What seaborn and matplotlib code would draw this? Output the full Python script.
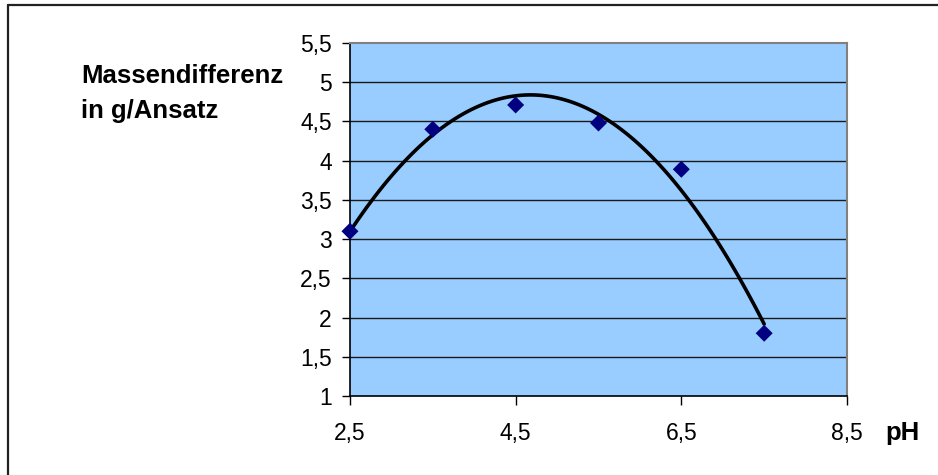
import matplotlib
matplotlib.use("Agg")
import matplotlib.pyplot as plt
import seaborn as sns
import pandas as pd
from matplotlib.lines import Line2D
from matplotlib.ticker import FuncFormatter

# data
ph = [2.5, 3.5, 4.5, 5.5, 6.5, 7.5]
mass_diff = [3.1, 4.4, 4.71, 4.48, 3.89, 1.8]

x_ticks = [2.5, 4.5, 6.5, 8.5]
y_ticks = [1, 1.5, 2, 2.5, 3, 3.5, 4, 4.5, 5, 5.5]

df = pd.DataFrame({'pH': ph, 'Massendifferenz': mass_diff})

sns.set_style("white")
plt.rcParams['font.family'] = ['Liberation Sans', 'DejaVu Sans']
plt.rcParams['text.color'] = 'black'
plt.rcParams['xtick.labelcolor'] = 'black'
plt.rcParams['ytick.labelcolor'] = 'black'

fig = plt.figure(figsize=(9.38, 4.75), dpi=100)
ax = fig.add_axes([0.3731, 0.1663, 0.5299, 0.7432])
ax.set_facecolor('#99CCFF')

# horizontal gridlines like Excel
for y in y_ticks[1:-1]:
    ax.axhline(y, color='#1a1a1a', lw=1.0, zorder=1)

# quadratic trendline through the points
sns.regplot(x='pH', y='Massendifferenz', data=df, order=2, ci=None,
            scatter=False, truncate=True, ax=ax,
            line_kws={'color': 'black', 'lw': 2.6, 'zorder': 3})
sns.scatterplot(x='pH', y='Massendifferenz', data=df, ax=ax, marker='D',
                color='#000080', s=75, edgecolor='none', zorder=4, clip_on=False)

ax.set_xlim(2.5, 8.5)
ax.set_ylim(1, 5.5)
ax.set_xticks(x_ticks)
ax.set_yticks(y_ticks)
comma = FuncFormatter(lambda v, p: f'{v:g}'.replace('.', ','))
ax.xaxis.set_major_formatter(comma)
ax.yaxis.set_major_formatter(comma)
ax.tick_params(axis='y', direction='out', length=6, width=1, color='black',
               labelcolor='black', labelsize=16.5, pad=7, left=True)
ax.tick_params(axis='x', direction='out', length=6.5, width=1, color='black',
               labelcolor='black', labelsize=16.5, pad=12, bottom=True)
ax.set_xlabel('')
ax.set_ylabel('')

for side in ['left', 'bottom']:
    ax.spines[side].set_color('black')
    ax.spines[side].set_linewidth(1.2)
for side in ['top', 'right']:
    ax.spines[side].set_color('#808080')
    ax.spines[side].set_linewidth(1.5)

fig.text(81 / 938, 1 - 83 / 475, 'Massendifferenz', fontsize=18.5,
         fontweight='bold', ha='left', va='baseline', color='black')
fig.text(81 / 938, 1 - 118 / 475, 'in g/Ansatz', fontsize=18.5,
         fontweight='bold', ha='left', va='baseline', color='black')
fig.text(885 / 938, 1 - 440 / 475, 'pH', fontsize=18.5, fontweight='bold',
         ha='left', va='baseline', color='black')

# outer chart frame (only top and left edge visible)
fig.add_artist(Line2D([8 / 938, 1], [1 - 5 / 475, 1 - 5 / 475],
                      transform=fig.transFigure, color='#222222', lw=1.6))
fig.add_artist(Line2D([8 / 938, 8 / 938], [0, 1 - 5 / 475],
                      transform=fig.transFigure, color='#222222', lw=1.6))

fig.savefig('out.png', dpi=100)
